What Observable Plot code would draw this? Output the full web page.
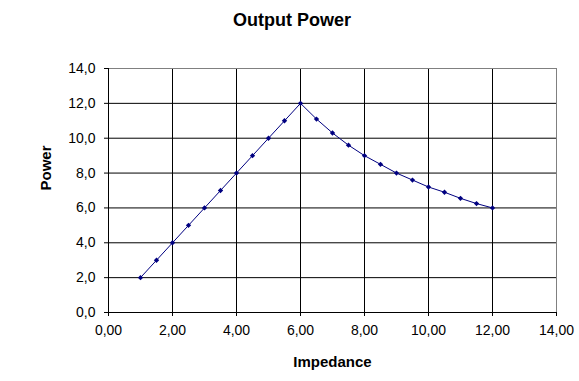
<!DOCTYPE html>
<html><head><meta charset="utf-8">
<script src="https://cdn.jsdelivr.net/npm/d3@7"></script>
<script src="https://cdn.jsdelivr.net/npm/@observablehq/plot@0.6"></script>
<style>
html,body{margin:0;padding:0;background:#fff;}
#title{width:584px;height:40px;text-align:center;font:bold 18px "Liberation Sans",Arial,sans-serif;line-height:18px;padding-top:11px;box-sizing:border-box;color:#000;}
</style>
</head><body>
<div id="title">Output Power</div>
<div id="chart"></div>
<script>
const impedance = [1, 1.5, 2, 2.5, 3, 3.5, 4, 4.5, 5, 5.5, 6, 6.5, 7, 7.5, 8, 8.5, 9, 9.5, 10, 10.5, 11, 11.5, 12];
const power = [2, 3, 4, 5, 6, 7, 8, 9, 10, 11, 12, 11.1, 10.3, 9.6, 9.0, 8.5, 8.0, 7.6, 7.2, 6.9, 6.55, 6.25, 6.0];
const xTicks = [0, 2, 4, 6, 8, 10, 12, 14];
const yTicks = [0, 2, 4, 6, 8, 10, 12, 14];

const data = impedance.map((x, i) => ({x, y: power[i]}));
const navy = "#000080";
const fmtX = d => d.toFixed(2).replace(".", ",");
const fmtY = d => d.toFixed(1).replace(".", ",");

const chart = Plot.plot({
  width: 579,
  height: 341,
  marginLeft: 108,
  marginRight: 23,
  marginTop: 28,
  marginBottom: 69,
  style: {fontFamily: "'Liberation Sans', Arial, sans-serif", fontSize: "14px", color: "#000", background: "#fff"},
  x: {domain: [0, 14], label: null},
  y: {domain: [0, 14], label: null},
  marks: [
    Plot.gridX(xTicks, {stroke: "#000", strokeOpacity: 1, strokeWidth: 1}),
    Plot.gridY(yTicks, {stroke: "#000", strokeOpacity: 1, strokeWidth: 1}),
    Plot.frame({stroke: "#808080"}),
    Plot.ruleX([0], {stroke: "#000"}),
    Plot.ruleY([0], {stroke: "#000"}),
    Plot.axisX(xTicks, {tickSize: 4, tickPadding: 9, fontSize: 14, tickFormat: fmtX, label: null}),
    Plot.axisY(yTicks, {tickSize: 4, tickPadding: 9, fontSize: 14, tickFormat: fmtY, label: null}),
    Plot.line(data, {x: "x", y: "y", stroke: navy, strokeWidth: 1}),
    Plot.dot(data, {x: "x", y: "y", symbol: "diamond2", r: 2.4, fill: navy, stroke: "none"}),
    Plot.text(["Impedance"], {frameAnchor: "bottom", dy: 54, fontWeight: "bold", fontSize: 15}),
    Plot.text(["Power"], {frameAnchor: "left", dx: -62, rotate: -90, fontWeight: "bold", fontSize: 15})
  ]
});
document.getElementById("chart").appendChild(chart);
</script>
</body></html>
